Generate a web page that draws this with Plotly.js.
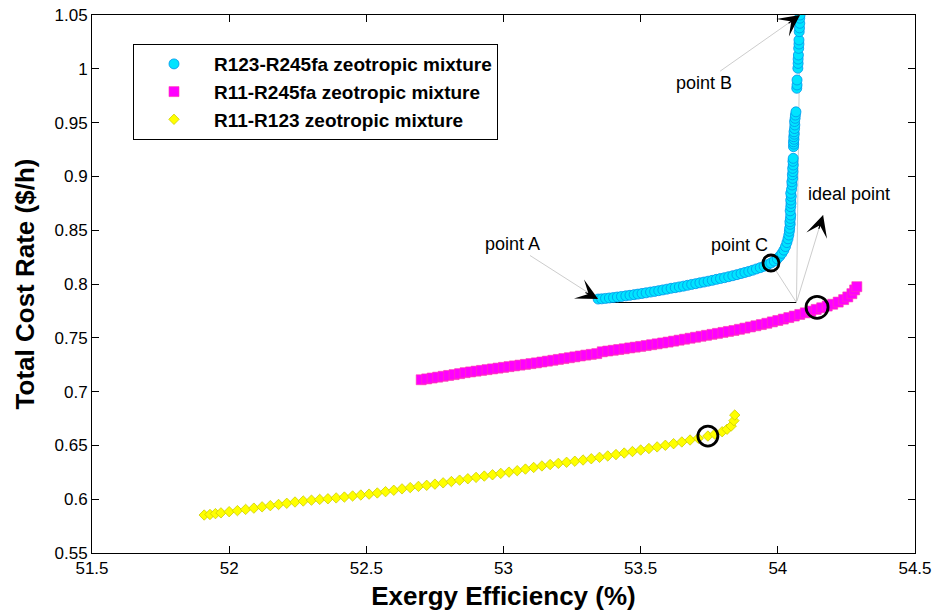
<!DOCTYPE html>
<html>
<head>
<meta charset="utf-8">
<script src="https://cdn.plot.ly/plotly-3.0.1.min.js"></script>
<style>html,body{margin:0;padding:0;background:#fff;}#chart{width:938px;height:616px;}</style>
</head>
<body>
<div id="chart"></div>
<script>
// ---------- data ----------
const seriesNames = ['R123-R245fa zeotropic mixture', 'R11-R245fa zeotropic mixture', 'R11-R123 zeotropic mixture'];

const cyanX = [53.345,53.358,53.372,53.386,53.401,53.415,53.430,53.446,53.461,53.476,53.490,53.505,53.520,53.536,53.551,53.566,53.581,53.596,53.611,53.626,53.641,53.656,53.671,53.686,53.701,53.716,53.731,53.746,53.761,53.776,53.791,53.806,53.821,53.836,53.851,53.866,53.880,53.894,53.908,53.922,53.936,53.950,53.963,53.975,53.987,53.998,54.007,54.015,54.022,54.028,54.033,54.037,54.040,54.042,54.043,54.045,54.044,54.046,54.047,54.045,54.047,54.048,54.047,54.049,54.047,54.050,54.052,54.051,54.054,54.053,54.055,54.054,54.056,54.055,54.056,54.057,54.058,54.057,54.059,54.058,54.060,54.059,54.061,54.062,54.061,54.063,54.064,54.066,54.069,54.070,54.070,54.073,54.074,54.074,54.075,54.076,54.077,54.077,54.078,54.079,54.080,54.080,54.081];
const cyanY = [0.7860,0.7862,0.7866,0.7870,0.7874,0.7879,0.7884,0.7890,0.7895,0.7901,0.7906,0.7912,0.7918,0.7925,0.7931,0.7938,0.7945,0.7952,0.7960,0.7966,0.7973,0.7980,0.7988,0.7996,0.8003,0.8011,0.8018,0.8026,0.8034,0.8043,0.8051,0.8059,0.8068,0.8077,0.8087,0.8097,0.8107,0.8117,0.8128,0.8140,0.8152,0.8165,0.8180,0.8195,0.8213,0.8234,0.8258,0.8285,0.8315,0.8348,0.8385,0.8420,0.8455,0.8490,0.8518,0.8555,0.8579,0.8610,0.8641,0.8680,0.8718,0.8750,0.8780,0.8815,0.8843,0.8880,0.8920,0.8950,0.8982,0.9015,0.9044,0.9075,0.9106,0.9140,0.9168,0.9276,0.9300,0.9322,0.9345,0.9369,0.9392,0.9415,0.9445,0.9478,0.9510,0.9540,0.9570,0.9600,0.9819,0.9850,0.9896,1.0005,1.0050,1.0090,1.0128,1.0190,1.0230,1.0268,1.0345,1.0380,1.0423,1.0470,1.0500];

const magentaX = [52.70,52.72,52.74,52.76,52.78,52.80,52.82,52.84,52.86,52.88,52.90,52.92,52.94,52.96,52.98,53.00,53.02,53.04,53.06,53.08,53.10,53.12,53.14,53.16,53.18,53.20,53.22,53.24,53.26,53.28,53.30,53.32,53.34,53.36,53.38,53.40,53.42,53.44,53.46,53.48,53.50,53.52,53.54,53.56,53.58,53.60,53.62,53.64,53.66,53.68,53.70,53.72,53.74,53.76,53.78,53.80,53.82,53.84,53.86,53.88,53.90,53.92,53.94,53.96,53.98,54.00,54.02,54.04,54.06,54.08,54.10,54.12,54.14,54.16,54.18,54.20,54.22,54.24,54.255,54.27,54.28,54.288];
const magentaY = [0.7110,0.7118,0.7126,0.7134,0.7142,0.7150,0.7158,0.7167,0.7176,0.7183,0.7190,0.7197,0.7204,0.7211,0.7218,0.7225,0.7232,0.7239,0.7246,0.7253,0.7260,0.7267,0.7275,0.7283,0.7291,0.7299,0.7307,0.7315,0.7323,0.7331,0.7339,0.7346,0.7353,0.7370,0.7377,0.7384,0.7391,0.7398,0.7406,0.7413,0.7420,0.7428,0.7436,0.7444,0.7452,0.7460,0.7469,0.7478,0.7487,0.7496,0.7505,0.7514,0.7523,0.7532,0.7541,0.7550,0.7559,0.7568,0.7579,0.7590,0.7601,0.7612,0.7623,0.7635,0.7648,0.7661,0.7674,0.7688,0.7702,0.7717,0.7732,0.7748,0.7764,0.7779,0.7795,0.7812,0.7832,0.7855,0.7880,0.7910,0.7945,0.7975];

const yellowX = [51.909,51.93,51.95,51.97,52.00,52.03,52.06,52.09,52.12,52.15,52.18,52.21,52.24,52.27,52.30,52.33,52.36,52.39,52.42,52.45,52.48,52.51,52.54,52.57,52.60,52.63,52.66,52.69,52.72,52.75,52.78,52.81,52.84,52.87,52.90,52.93,52.96,52.99,53.02,53.05,53.08,53.11,53.14,53.17,53.20,53.23,53.26,53.29,53.32,53.35,53.38,53.41,53.44,53.47,53.50,53.53,53.56,53.59,53.62,53.65,53.68,53.71,53.745,53.77,53.797,53.815,53.83,53.84,53.843];
const yellowY = [0.5853,0.5858,0.5866,0.5873,0.5884,0.5894,0.5905,0.5917,0.5929,0.5940,0.5951,0.5962,0.5974,0.5983,0.5991,0.5998,0.6004,0.6012,0.6020,0.6030,0.6039,0.6047,0.6058,0.6070,0.6083,0.6096,0.6108,0.6119,0.6129,0.6140,0.6152,0.6164,0.6177,0.6190,0.6203,0.6215,0.6227,0.6240,0.6252,0.6265,0.6280,0.6295,0.6309,0.6322,0.6333,0.6343,0.6353,0.6364,0.6376,0.6389,0.6402,0.6415,0.6429,0.6443,0.6457,0.6471,0.6486,0.6501,0.6516,0.6532,0.6550,0.6566,0.6587,0.6605,0.6627,0.6650,0.6680,0.6730,0.6782];

// selected (circled) points: point C, R11-R245fa, R11-R123
const selectedX = [53.975, 54.143, 53.745];
const selectedY = [0.8195, 0.7783, 0.6587];

// ideal point and the tip of its arrow
const idealX = 54.068, idealY = 0.7828;
const idealArrowTipX = 54.165, idealArrowTipY = 0.8641;

const labelText = ['point A', 'point B', 'point C', 'ideal point'];
const labelX = [53.031, 53.730, 53.862, 54.259];
const labelY = [0.8372, 0.9871, 0.8365, 0.8836];

const xTickVals = [51.5, 52, 52.5, 53, 53.5, 54, 54.5];
const xTickText = ['51.5', '52', '52.5', '53', '53.5', '54', '54.5'];
const yTickVals = [0.55, 0.6, 0.65, 0.7, 0.75, 0.8, 0.85, 0.9, 0.95, 1, 1.05];
const yTickText = ['0.55', '0.6', '0.65', '0.7', '0.75', '0.8', '0.85', '0.9', '0.95', '1', '1.05'];

// ---------- drawing ----------
const FONT = 'Liberation Sans, Arial, Helvetica, sans-serif';
const nC = cyanX.length - 1;
const gray = 'rgb(205,205,205)';

const traces = [
  {x: [cyanX[0], idealX], y: [idealY, idealY], mode: 'lines', line: {color: '#000', width: 1}, showlegend: false, hoverinfo: 'skip'},
  {x: [idealX, cyanX[nC]], y: [idealY, cyanY[nC]], mode: 'lines', line: {color: gray, width: 1}, showlegend: false, hoverinfo: 'skip'},
  {x: [idealX, selectedX[0]], y: [idealY, selectedY[0]], mode: 'lines', line: {color: gray, width: 1}, showlegend: false, hoverinfo: 'skip'},
  {x: cyanX, y: cyanY, name: seriesNames[0], mode: 'markers', legendgroup: 'a',
   marker: {symbol: 'circle', size: 10, color: 'rgb(0,228,255)', line: {color: 'rgb(0,150,235)', width: 0.8}}},
  {x: magentaX, y: magentaY, name: seriesNames[1], mode: 'markers', legendgroup: 'b',
   marker: {symbol: 'square', size: 10, color: 'rgb(255,0,255)', line: {color: 'rgb(255,60,170)', width: 0.6}}},
  {x: yellowX, y: yellowY, name: seriesNames[2], mode: 'markers', legendgroup: 'c',
   marker: {symbol: 'diamond', size: 8, color: 'rgb(255,255,0)', line: {color: 'rgb(205,205,0)', width: 0.8}}},
  {x: selectedX, y: selectedY, mode: 'markers', showlegend: false, hoverinfo: 'skip',
   marker: {symbol: 'circle', size: [16, 22, 20], opacity: 1, color: 'rgba(0,0,0,0)', line: {color: 'rgb(0,0,0)', width: 2.8}}}
];

const txt = {family: FONT, size: 18, color: '#000'};
function headAnn(x, y, dx, dy) {
  const L = Math.sqrt(dx*dx + dy*dy), k = 16 / L;
  return {x: x, y: y, xref: 'x', yref: 'y', ax: dx*k, ay: dy*k, text: '', showarrow: true,
          arrowhead: 3, arrowsize: 3, arrowwidth: 1.2, arrowcolor: '#000', standoff: 0};
}
const annotations = [
  // point A
  {x: cyanX[0], y: cyanY[0], xref: 'x', yref: 'y', axref: 'x', ayref: 'y', ax: labelX[0], ay: labelY[0],
   text: labelText[0], font: txt, showarrow: true, arrowhead: 0, arrowwidth: 1, arrowcolor: gray, standoff: 0},
  headAnn(cyanX[0], cyanY[0], -65, -34),
  // point B
  {x: cyanX[nC], y: cyanY[nC], xref: 'x', yref: 'y', axref: 'x', ayref: 'y', ax: labelX[1], ay: labelY[1],
   text: labelText[1], font: txt, showarrow: true, arrowhead: 0, arrowwidth: 1, arrowcolor: gray, standoff: 0},
  headAnn(cyanX[nC], cyanY[nC], -72, 52),
  // point C label
  {x: labelX[2], y: labelY[2], xref: 'x', yref: 'y', text: labelText[2], font: txt, showarrow: false},
  // ideal point arrow + label
  {x: idealArrowTipX, y: idealArrowTipY, xref: 'x', yref: 'y', axref: 'x', ayref: 'y', ax: idealX, ay: idealY,
   text: '', showarrow: true, arrowhead: 0, arrowwidth: 1, arrowcolor: gray, standoff: 0},
  headAnn(idealArrowTipX, idealArrowTipY, -27, 87),
  {x: labelX[3], y: labelY[3], xref: 'x', yref: 'y', text: labelText[3], font: txt, showarrow: false}
];

const axisCommon = {
  showgrid: false, zeroline: false, showline: true, linecolor: '#000', linewidth: 1,
  mirror: 'ticks', ticks: 'inside', ticklen: 7, tickcolor: '#000', tickwidth: 1,
  tickfont: {family: FONT, size: 17, color: '#000'}, tickmode: 'array'
};

const layout = {
  width: 938, height: 616,
  margin: {l: 92, r: 23, t: 15, b: 63, pad: 0},
  paper_bgcolor: '#fff', plot_bgcolor: '#fff',
  font: {family: FONT, color: '#000'},
  xaxis: Object.assign({}, axisCommon, {
    range: [51.5, 54.5], tickvals: xTickVals, ticktext: xTickText,
    title: {text: 'Exergy Efficiency (%)', font: {family: FONT, size: 26, weight: 'bold', color: '#000'}, standoff: 9}
  }),
  yaxis: Object.assign({}, axisCommon, {
    range: [0.55, 1.05], tickvals: yTickVals, ticktext: yTickText,
    title: {text: 'Total Cost Rate ($/h)', font: {family: FONT, size: 26, weight: 'bold', color: '#000'}, standoff: 12}
  }),
  legend: {
    x: 0.0498, y: 0.946, xanchor: 'left', yanchor: 'top',
    bgcolor: '#fff', bordercolor: '#000', borderwidth: 1,
    font: {family: FONT, size: 19, weight: 'bold', color: '#000'},
    traceorder: 'grouped', tracegroupgap: 0, itemwidth: 70
  },
  annotations: annotations,
  showlegend: true
};

Plotly.newPlot('chart', traces, layout, {displayModeBar: false, staticPlot: true});
</script>
</body>
</html>
